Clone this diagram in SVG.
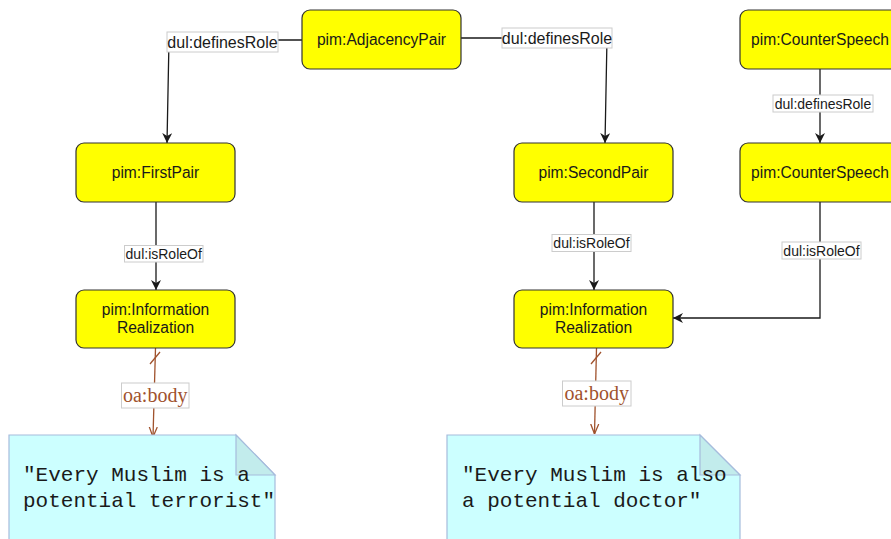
<svg xmlns="http://www.w3.org/2000/svg" width="891" height="539" viewBox="0 0 891 539">
  <style>
    .node rect { fill: #ffff00; stroke: #333333; stroke-width: 1.2; }
    .node text { font-family: "Liberation Sans", Arial, sans-serif; font-size: 15.6px; fill: #1a1a1a; text-anchor: middle; }
    .edge { fill: none; stroke: #1a1a1a; stroke-width: 1.3; }
    .body { fill: none; stroke: #a0522d; stroke-width: 1.3; }
    .lbl rect { fill: #ffffff; stroke: #cccccc; stroke-width: 1; }
    .lbl text { font-family: "Liberation Sans", Arial, sans-serif; fill: #1a1a1a; text-anchor: middle; }
    .blbl text { font-family: "Liberation Serif", "Times New Roman", serif; font-size: 20px; fill: #a0522d; text-anchor: middle; }
    .note path.sheet { fill: #ccffff; stroke: #a6bcdc; stroke-width: 1.2; }
    .note path.fold { fill: #c2ecec; stroke: #a6bcdc; stroke-width: 1.2; }
    .note text { font-family: "Liberation Mono", "Courier New", monospace; font-size: 21px; fill: #1a1a1a; }
  </style>
  <defs>
    <marker id="arrow" viewBox="0 0 10 10" refX="10" refY="5" markerWidth="10" markerHeight="10" markerUnits="userSpaceOnUse" orient="auto">
      <path d="M0,0 L10,5 L0,10 L3,5 Z" fill="#1a1a1a"/>
    </marker>
    <marker id="open" viewBox="0 0 10 10" refX="10" refY="5" markerWidth="10" markerHeight="10" markerUnits="userSpaceOnUse" orient="auto">
      <path d="M0,1 L10,5 L0,9" fill="none" stroke="#a0522d" stroke-width="1.3"/>
    </marker>
  </defs>

  <!-- connectors -->
  <g id="connectors">
    <path class="edge" d="M302,40 L169,40 L167,143" marker-end="url(#arrow)"/>
    <path class="edge" d="M461,38 L607,38 L605,143" marker-end="url(#arrow)"/>
    <path class="edge" d="M820,69 L820,143" marker-end="url(#arrow)"/>
    <path class="edge" d="M156,202 L156,290" marker-end="url(#arrow)"/>
    <path class="edge" d="M594,202 L594,290" marker-end="url(#arrow)"/>
    <path class="edge" d="M820,202 L820,318 L673,318" marker-end="url(#arrow)"/>
    <path class="body" d="M155.5,348 L153,437" marker-end="url(#open)"/>
    <path class="body" d="M150,364 L160,352"/>
    <path class="body" d="M596.5,348 L594.5,434" marker-end="url(#open)"/>
    <path class="body" d="M591,364 L601,352"/>

    <g class="lbl">
      <rect x="167" y="32" width="111" height="20"/>
      <text x="222.5" y="47.5" font-size="16">dul:definesRole</text>
      <rect x="502" y="28" width="110" height="20"/>
      <text x="557" y="43.5" font-size="16">dul:definesRole</text>
      <rect x="773" y="95" width="100" height="17"/>
      <text x="823" y="108.5" font-size="14">dul:definesRole</text>
      <rect x="124.5" y="245.5" width="78.5" height="16.5"/>
      <text x="163.7" y="258.5" font-size="14">dul:isRoleOf</text>
      <rect x="552" y="234.5" width="79" height="17"/>
      <text x="591.5" y="247.5" font-size="14">dul:isRoleOf</text>
      <rect x="782" y="242" width="79" height="17"/>
      <text x="821.5" y="255.5" font-size="14">dul:isRoleOf</text>
    </g>
    <g class="lbl blbl">
      <rect x="121.5" y="383" width="67.5" height="25"/>
      <text x="155.2" y="402">oa:body</text>
      <rect x="562.5" y="381" width="68.5" height="25"/>
      <text x="596.7" y="400">oa:body</text>
    </g>
  </g>

  <!-- nodes -->
  <g id="adjacency-pair" class="node">
    <rect x="302" y="10" width="159" height="59" rx="8"/>
    <text x="381.5" y="45">pim:AdjacencyPair</text>
  </g>
  <g id="counter-speech-top" class="node">
    <rect x="740" y="10" width="160" height="59" rx="8"/>
    <text x="820" y="45">pim:CounterSpeech</text>
  </g>
  <g id="first-pair" class="node">
    <rect x="76" y="143" width="159" height="59" rx="8"/>
    <text x="155.5" y="178">pim:FirstPair</text>
  </g>
  <g id="second-pair" class="node">
    <rect x="514" y="143" width="159" height="59" rx="8"/>
    <text x="593.5" y="178">pim:SecondPair</text>
  </g>
  <g id="counter-speech-role" class="node">
    <rect x="740" y="143" width="160" height="59" rx="8"/>
    <text x="820" y="178">pim:CounterSpeech</text>
  </g>
  <g id="info-realization-left" class="node">
    <rect x="76" y="290" width="159" height="58" rx="8"/>
    <text x="155.5" y="315">pim:Information</text>
    <text x="155.5" y="333">Realization</text>
  </g>
  <g id="info-realization-right" class="node">
    <rect x="514" y="290" width="159" height="58" rx="8"/>
    <text x="593.5" y="315">pim:Information</text>
    <text x="593.5" y="333">Realization</text>
  </g>

  <!-- text notes -->
  <g id="note-left" class="note">
    <path class="sheet" d="M9,435 L236,435 L275,475 L275,545 L9,545 Z"/>
    <path class="fold" d="M236,435 L236,475 L275,475 Z"/>
    <text x="23" y="481">"Every Muslim is a</text>
    <text x="23" y="507">potential terrorist"</text>
  </g>
  <g id="note-right" class="note">
    <path class="sheet" d="M447,435 L700,435 L740,475 L740,545 L447,545 Z"/>
    <path class="fold" d="M700,435 L700,475 L740,475 Z"/>
    <text x="462" y="481">"Every Muslim is also</text>
    <text x="462" y="507">a potential doctor"</text>
  </g>
</svg>
